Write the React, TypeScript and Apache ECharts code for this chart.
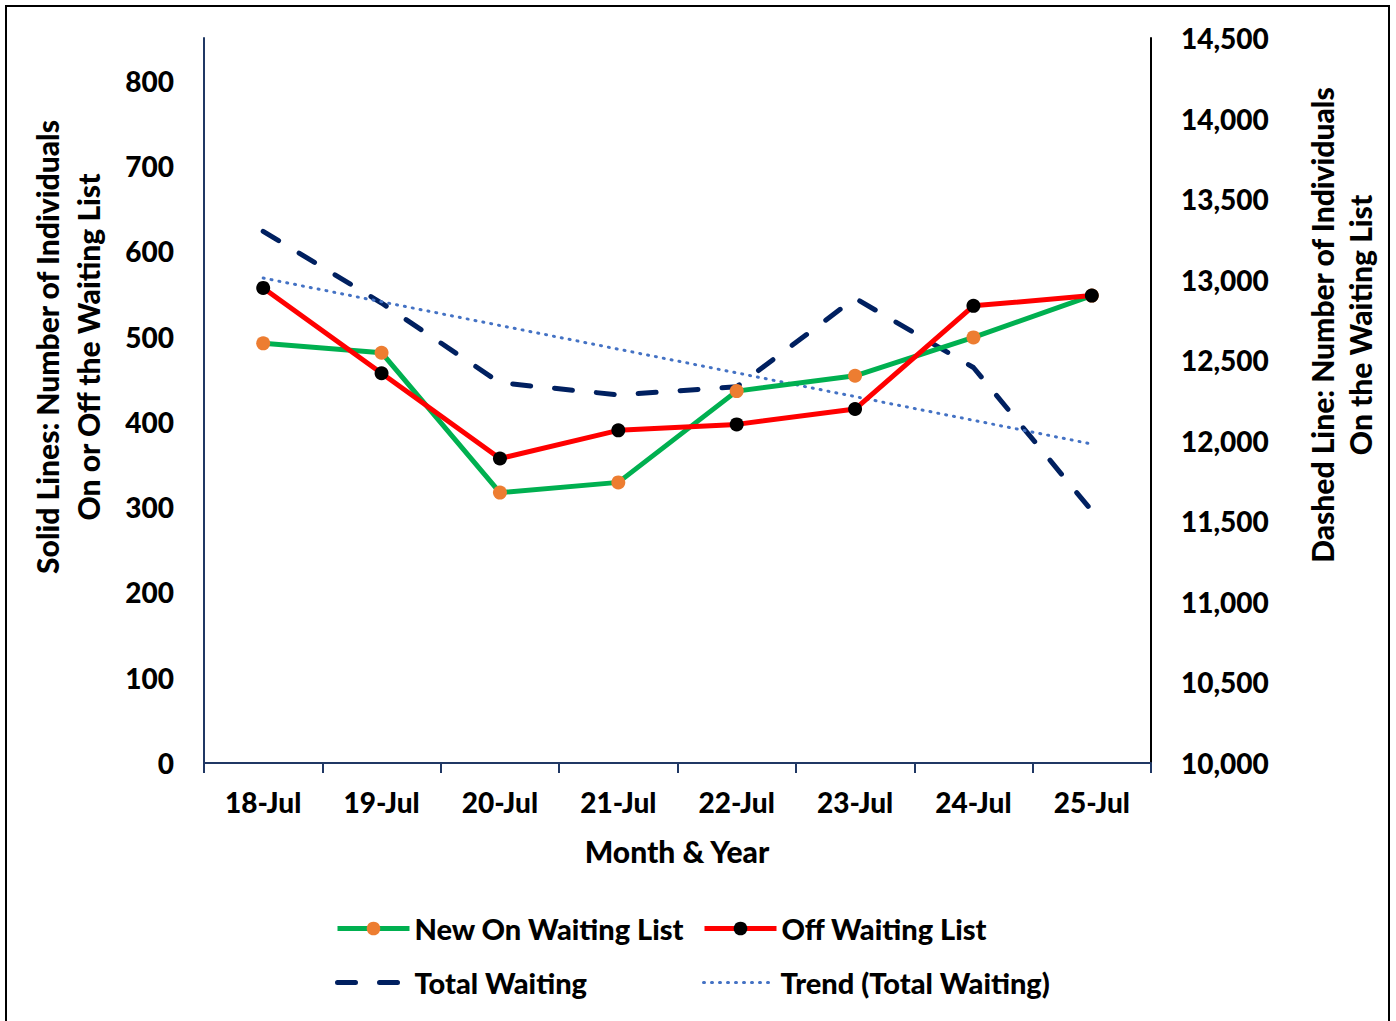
import React, { useEffect, useRef } from "react";
import * as echarts from "echarts";

const categories = ["18-Jul", "19-Jul", "20-Jul", "21-Jul", "22-Jul", "23-Jul", "24-Jul", "25-Jul"];
const newOnWaiting = [492, 481, 317, 329, 436, 454, 499, 548];
const offWaiting = [557, 457, 357, 390, 397, 415, 536, 548];
const totalWaiting = [13300, 12855, 12360, 12285, 12335, 12885, 12455, 11565];
const trendTotal = [13010, null, null, null, null, null, null, 11980];

const FONT = "Lato";
const WEIGHT = 900;

export default function App() {
  const ref = useRef<HTMLDivElement>(null);
  useEffect(() => {
    document.body.style.margin = "0";
    const chart = echarts.init(ref.current!, null, { renderer: "svg" });
    const legendText = { fontFamily: FONT, fontWeight: WEIGHT, fontSize: 29, color: "#000" };
    const mkLegend = (name: string, left: number, top: number, lineWidth: number, noSymbol: boolean) => ({
      data: [{ name }],
      left,
      top,
      padding: 0,
      itemWidth: 72,
      itemHeight: 17,
      textStyle: legendText,
      lineStyle: { width: lineWidth },
      itemStyle: noSymbol ? { opacity: 0 } : {},
      selectedMode: false,
    });
    const titleStyle = (text: string) => ({
      text,
      fontFamily: FONT,
      fontWeight: WEIGHT,
      fontSize: 30,
      fill: "#000",
      textAlign: "center",
      textVerticalAlign: "middle",
    });
    chart.setOption({
      animation: false,
      backgroundColor: "#fff",
      grid: { left: 204, right: 1396 - 1151, top: 38, bottom: 1021 - 763, containLabel: false },
      legend: [
        mkLegend("New On Waiting List", 335, 914, 5, false),
        mkLegend("Off Waiting List", 702, 914, 5, false),
        mkLegend("Total Waiting", 335, 968, 5, true),
        mkLegend("Trend (Total Waiting)", 702, 968, 3, true),
      ],
      xAxis: {
        type: "category",
        data: categories,
        boundaryGap: true,
        axisLine: { lineStyle: { color: "#203864", width: 2 } },
        axisTick: { show: true, length: 10, lineStyle: { color: "#203864", width: 2 } },
        axisLabel: { fontFamily: FONT, fontWeight: WEIGHT, fontSize: 28, color: "#000", margin: 25 },
      },
      yAxis: [
        {
          type: "value",
          min: 0,
          max: 850,
          interval: 100,
          position: "left",
          splitLine: { show: false },
          axisLine: { show: true, lineStyle: { color: "#203864", width: 2 } },
          axisTick: { show: false },
          axisLabel: {
            fontFamily: FONT,
            fontWeight: WEIGHT,
            fontSize: 28,
            color: "#000",
            margin: 30,
            formatter: (v: number) => (v % 100 === 0 ? String(v) : ""),
          },
        },
        {
          type: "value",
          min: 10000,
          max: 14500,
          interval: 500,
          position: "right",
          splitLine: { show: false },
          axisLine: { show: true, lineStyle: { color: "#000", width: 2 } },
          axisTick: { show: false },
          axisLabel: {
            fontFamily: FONT,
            fontWeight: WEIGHT,
            fontSize: 28,
            color: "#000",
            margin: 30,
            formatter: (v: number) => v.toLocaleString("en-US"),
          },
        },
      ],
      series: [
        {
          name: "New On Waiting List",
          type: "line",
          data: newOnWaiting,
          yAxisIndex: 0,
          symbol: "circle",
          symbolSize: 14,
          lineStyle: { color: "#00B050", width: 5 },
          itemStyle: { color: "#ED7D31" },
          z: 3,
        },
        {
          name: "Off Waiting List",
          type: "line",
          data: offWaiting,
          yAxisIndex: 0,
          symbol: "circle",
          symbolSize: 14,
          lineStyle: { color: "#FF0000", width: 5 },
          itemStyle: { color: "#000" },
          z: 4,
        },
        {
          name: "Total Waiting",
          type: "line",
          data: totalWaiting,
          yAxisIndex: 1,
          symbol: "none",
          lineStyle: { color: "#002060", width: 5, type: [18, 24], cap: "round" },
          itemStyle: { color: "#002060" },
          z: 2,
        },
        {
          name: "Trend (Total Waiting)",
          type: "line",
          data: trendTotal,
          connectNulls: true,
          yAxisIndex: 1,
          symbol: "none",
          lineStyle: { color: "#4472C4", width: 3, type: [1, 7], cap: "round" },
          itemStyle: { color: "#4472C4" },
          z: 2,
        },
      ],
      graphic: [
        {
          type: "rect",
          shape: { x: 6, y: 6, width: 1383, height: 1030 },
          style: { fill: "none", stroke: "#000", lineWidth: 2 },
          silent: true,
        },
        { type: "text", x: 47, y: 347, rotation: Math.PI / 2, style: titleStyle("Solid Lines: Number of Individuals") },
        { type: "text", x: 88, y: 347, rotation: Math.PI / 2, style: titleStyle("On or Off the Waiting List") },
        { type: "text", x: 1322, y: 325, rotation: Math.PI / 2, style: titleStyle("Dashed Line: Number of Individuals") },
        { type: "text", x: 1360, y: 325, rotation: Math.PI / 2, style: titleStyle("On the Waiting List") },
        { type: "text", x: 677, y: 851, style: titleStyle("Month & Year") },
      ],
    });
    return () => chart.dispose();
  }, []);
  return <div ref={ref} style={{ width: 1396, height: 1021 }} />;
}
